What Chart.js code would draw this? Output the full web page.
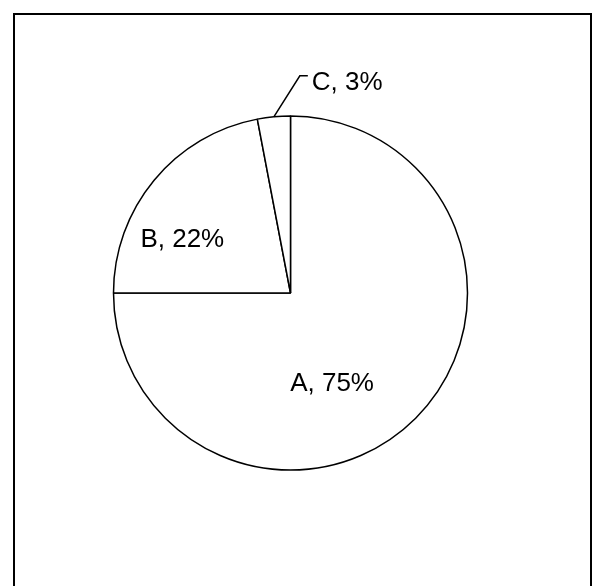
<!DOCTYPE html>
<html lang="en">
<head>
    <meta charset="UTF-8">
    <title>Pie Chart</title>
    <script src="https://cdn.jsdelivr.net/npm/chart.js"></script>
    <style>
        html, body {
            margin: 0;
            padding: 0;
            background: #ffffff;
            overflow: hidden;
        }
        .frame {
            position: absolute;
            left: 13px;
            top: 13px;
            width: 575px;
            height: 600px;
            border: 2px solid #000000;
            box-sizing: content-box;
        }
        .chart-container {
            position: absolute;
            left: 0;
            top: 0;
            width: 593px;
            height: 586px;
        }
    </style>
</head>
<body>
    <div class="frame"></div>
    <div class="chart-container">
        <canvas id="pieChart" width="593" height="586"></canvas>
    </div>

    <script>
        // Chart data
        const categories = ['A', 'B', 'C'];
        const shares = [75, 22, 3];

        // Label placement (pixel nudges from each slice's centre point)
        const labelNudges = [[-21, 35], [-40, 10], null];
        const labelFont = '26px "Liberation Sans", Arial, sans-serif';

        // Draws the "A, 75%" style labels, with a leader line for the small slice
        const sliceLabels = {
            id: 'sliceLabels',
            afterDatasetsDraw(chart) {
                const ctx = chart.ctx;
                const arcs = chart.getDatasetMeta(0).data;
                ctx.save();
                ctx.font = labelFont;
                ctx.fillStyle = '#000000';
                ctx.textBaseline = 'alphabetic';
                arcs.forEach((arc, i) => {
                    const text = categories[i] + ', ' + shares[i] + '%';
                    const nudge = labelNudges[i];
                    if (nudge) {
                        const pos = arc.tooltipPosition();
                        ctx.textAlign = 'center';
                        ctx.fillText(text, pos.x + nudge[0], pos.y + nudge[1]);
                    } else {
                        // outside label with leader line
                        const { x, y, startAngle, endAngle, outerRadius } = arc.getProps(
                            ['x', 'y', 'startAngle', 'endAngle', 'outerRadius'], true);
                        const mid = (startAngle + endAngle) / 2;
                        const ex = x + Math.cos(mid) * outerRadius;
                        const ey = y + Math.sin(mid) * outerRadius;
                        const kx = ex + 26;
                        const ky = ey - 41;
                        ctx.strokeStyle = '#000000';
                        ctx.lineWidth = 1.5;
                        ctx.beginPath();
                        ctx.moveTo(ex, ey);
                        ctx.lineTo(kx, ky);
                        ctx.lineTo(kx + 8, ky);
                        ctx.stroke();
                        ctx.textAlign = 'left';
                        ctx.fillText(text, kx + 12, ky + 14);
                    }
                });
                ctx.restore();
            }
        };

        const ctx = document.getElementById('pieChart').getContext('2d');
        const chart = new Chart(ctx, {
            type: 'pie',
            data: {
                labels: categories,
                datasets: [{
                    data: shares,
                    backgroundColor: '#ffffff',
                    borderColor: '#000000',
                    borderWidth: 1.5,
                    radius: 177
                }]
            },
            options: {
                responsive: false,
                animation: false,
                layout: {
                    padding: { left: 0, right: 12, top: 0, bottom: 0 }
                },
                plugins: {
                    legend: { display: false },
                    tooltip: { enabled: false }
                }
            },
            plugins: [sliceLabels]
        });
    </script>
</body>
</html>
